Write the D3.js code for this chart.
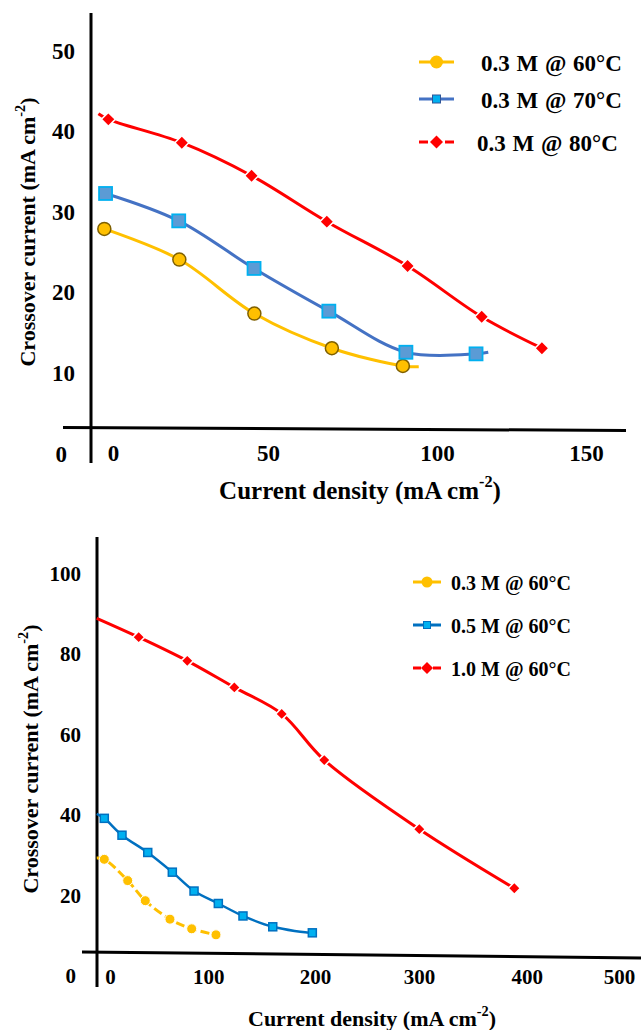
<!DOCTYPE html>
<html>
<head>
<meta charset="utf-8">
<script src="https://cdn.jsdelivr.net/npm/d3@7"></script>
<style>
  body { margin: 0; background: #fff; }
  svg { display: block; }
  text { font-family: "Liberation Serif", "Times New Roman", serif; font-weight: bold; fill: #000; }
</style>
</head>
<body>
<div id="chart"></div>
<script>
// ---- data ----
// upper panel: 0.3 M at three temperatures
const topXTicks = [0, 50, 100, 150];
const topYTicks = [0, 10, 20, 30, 40, 50];
const topNames = ["0.3 M @ 60°C", "0.3 M @ 70°C", "0.3 M @ 80°C"];

const topX60 = [-2.8, 21.4, 45.6, 68.9, 89.9];
const topY60 = [27.8, 24.0, 17.3, 13.0, 10.8];
const topX70 = [-2.4, 21.2, 45.5, 68.0, 90.8, 113.1];
const topY70 = [32.2, 28.8, 22.9, 17.6, 12.5, 12.3];
const topX80 = [-1.5, 22.2, 44.7, 67.4, 91.3, 115.0, 135.2];
const topY80 = [41.4, 38.5, 34.4, 28.7, 23.2, 16.9, 13.0];
// the drawn curves run a little past the markers
const topLead80 = [-4.7, 42.1];
const topTail60 = [94.6, 10.7];
const topTail70 = [117.2, 12.5];

// lower panel: three concentrations at 60 °C
const botXTicks = [0, 100, 200, 300, 400, 500];
const botYTicks = [0, 20, 40, 60, 80, 100];
const botNames = ["0.3 M @ 60°C", "0.5 M @ 60°C", "1.0 M @ 60°C"];

const botX03 = [-5.8, 18.0, 35.9, 61.0, 83.1, 107.2];
const botY03 = [28.8, 23.5, 18.5, 13.9, 11.5, 10.0];
const botX05 = [-5.8, 12.2, 38.4, 63.4, 85.5, 109.4, 132.5, 160.4, 197.5];
const botY05 = [39.0, 34.8, 30.5, 25.6, 20.9, 17.8, 14.7, 12.0, 10.5];
const botX10 = [29.2, 78.6, 124.4, 168.8, 208.9, 300.3, 388.5];
const botY10 = [84.1, 78.2, 71.6, 65.0, 53.5, 36.3, 21.6];
const botLead03 = [-13.5, 29.1];
const botLead05 = [-13.5, 40.1];
const botLead10 = [-13.5, 88.8];
const botTail05 = [201.6, 10.6];

const svg = d3.select("#chart").append("svg")
    .attr("width", 641)
    .attr("height", 1030)
    .style("background", "#fff");

function addMarker(sel, kind, size) {
    if (kind === "circle") return sel.append("circle").attr("r", size);
    let h = kind === "diamond" ? size / Math.SQRT2 : size;
    let m = sel.append("rect")
        .attr("x", -h).attr("y", -h)
        .attr("width", 2 * h).attr("height", 2 * h);
    if (kind === "diamond") m.attr("transform", "rotate(45)");
    return m;
}

function unitTitle(sel, words, size) {
    sel.style("font-size", size + "px");
    sel.append("tspan").text(words + " (mA cm");
    sel.append("tspan").attr("dy", -0.32 * size).style("font-size", (size * 0.65) + "px").text("-2");
    sel.append("tspan").attr("dy", 0.32 * size).text(")");
}

function drawPanel(p) {
    const g = svg.append("g");
    // piecewise scale so the value labels sit where the picture has them
    const x = d3.scaleLinear().domain(p.xTicks).range(p.xTickPos);
    const y = d3.scaleLinear().domain([p.yTicks[0], p.yTicks[p.yTicks.length - 1]]).range(p.yRange);

    // axis lines
    g.append("line")
        .attr("x1", p.yAxis.x).attr("x2", p.yAxis.x)
        .attr("y1", p.yAxis.top).attr("y2", p.yAxis.bottom)
        .attr("stroke", "#000").attr("stroke-width", 3);
    g.append("line")
        .attr("x1", p.xAxis.left).attr("x2", p.xAxis.right)
        .attr("y1", p.xAxis.y1).attr("y2", p.xAxis.y2)
        .attr("stroke", "#000").attr("stroke-width", 3);

    // tick labels
    const gx = g.append("g")
        .attr("transform", `translate(0,${p.xLabelY})`)
        .call(d3.axisBottom(x).tickValues(p.xTicks).tickSize(0).tickFormat(d3.format("d")));
    gx.select(".domain").remove();
    gx.selectAll("text").attr("y", 0).attr("dy", "0.35em").style("font-size", p.tickFont + "px");

    const gy = g.append("g")
        .attr("transform", `translate(${p.yLabelX},0)`)
        .call(d3.axisLeft(y).tickValues(p.yTicks).tickSize(0).tickPadding(0).tickFormat(d3.format("d")));
    gy.select(".domain").remove();
    gy.selectAll("text").attr("dy", "0.35em").style("font-size", p.tickFont + "px");
    gy.selectAll(".tick").filter(d => d === 0).select("text").attr("x", p.zeroShift);

    // axis titles
    unitTitle(g.append("text")
        .attr("x", p.xTitle[0]).attr("y", p.xTitle[1])
        .attr("text-anchor", "middle").attr("dominant-baseline", "central"),
        "Current density", p.xTitleFont);
    unitTitle(g.append("text")
        .attr("transform", `translate(${p.yTitle[0]},${p.yTitle[1]}) rotate(-90)`)
        .attr("text-anchor", "middle").attr("dominant-baseline", "central"),
        "Crossover current", p.yTitleFont);

    const line = d3.line()
        .x(d => x(d[0]))
        .y(d => y(d[1]))
        .curve(d3.curveCatmullRom.alpha(0.5));

    p.series.forEach(s => {
        let pts = s.xs.map((v, i) => [v, s.ys[i]]);
        let path = (s.lead ? [s.lead] : []).concat(pts, s.tail ? [s.tail] : []);
        g.append("path")
            .attr("d", line(path))
            .attr("fill", "none")
            .attr("stroke", s.color)
            .attr("stroke-width", s.width)
            .attr("stroke-dasharray", s.dash || null);
        g.selectAll(null)
            .data(pts)
            .enter().append("g")
            .attr("transform", d => `translate(${x(d[0])},${y(d[1])})`)
            .each(function() {
                addMarker(d3.select(this), s.marker, s.size)
                    .attr("fill", s.fill)
                    .attr("stroke", s.stroke)
                    .attr("stroke-width", s.strokeW);
            });
    });

    // legend
    const lg = g.append("g");
    p.series.forEach((s, i) => {
        let ly = p.legend.ys[i];
        lg.append("line")
            .attr("x1", p.legend.x1).attr("x2", p.legend.x2)
            .attr("y1", ly).attr("y2", ly)
            .attr("stroke", s.color).attr("stroke-width", 3)
            .attr("stroke-dasharray", s.legendDash || null);
        let mg = lg.append("g").attr("transform", `translate(${(p.legend.x1 + p.legend.x2) / 2},${ly})`);
        addMarker(mg, s.marker, s.legendSize)
            .attr("fill", s.legendFill)
            .attr("stroke", s.legendStroke)
            .attr("stroke-width", 1);
        lg.append("text")
            .attr("x", p.legend.tx[i]).attr("y", ly + 1)
            .attr("dominant-baseline", "central")
            .style("font-size", p.legend.font + "px")
            .style("word-spacing", p.legend.wordSpacing + "px")
            .text(p.names[i]);
    });
}

drawPanel({
    xTicks: topXTicks, xTickPos: [113, 268, 437, 586],
    yTicks: topYTicks, yRange: [453, 50],
    yAxis: {x: 91, top: 13, bottom: 463},
    xAxis: {left: 63, right: 626, y1: 427.5, y2: 430.5},
    xLabelY: 453, yLabelX: 75, zeroShift: -8, tickFont: 23,
    xTitle: [360, 490], xTitleFont: 25,
    yTitle: [27, 232], yTitleFont: 22,
    names: topNames,
    legend: {x1: 419, x2: 454, ys: [62, 99, 142], tx: [481, 481, 477], font: 23, wordSpacing: 1},
    series: [
        {xs: topX60, ys: topY60, tail: topTail60, color: "#FFC000", width: 3,
         marker: "circle", size: 6.5, fill: "#FFC000", stroke: "#7F6000", strokeW: 1.5,
         legendSize: 6.5, legendFill: "#FFC000", legendStroke: "none"},
        {xs: topX70, ys: topY70, tail: topTail70, color: "#4472C4", width: 3,
         marker: "square", size: 6.5, fill: "#5B9BD5", stroke: "#00B0F0", strokeW: 1.8,
         legendSize: 4, legendFill: "#00B0F0", legendStroke: "#2F5597"},
        {xs: topX80, ys: topY80, lead: topLead80, color: "#FF0000", width: 3,
         marker: "diamond", size: 7, fill: "#FF0000", stroke: "#fff", strokeW: 1.5,
         legendSize: 6.5, legendFill: "#FF0000", legendStroke: "none", legendDash: "9,17"}
    ]
});

drawPanel({
    xTicks: botXTicks, xTickPos: [110, 208.3, 315, 419, 526.7, 619],
    yTicks: botYTicks, yRange: [975, 573.3],
    yAxis: {x: 97, top: 537, bottom: 987},
    xAxis: {left: 82, right: 641, y1: 952, y2: 958},
    xLabelY: 977, yLabelX: 81, zeroShift: -5, tickFont: 21,
    xTitle: [372, 1018], xTitleFont: 22,
    yTitle: [30, 759], yTitleFont: 22,
    names: botNames,
    legend: {x1: 413, x2: 441, ys: [582, 625, 668], tx: [451, 451, 451], font: 20, wordSpacing: 0},
    series: [
        {xs: botX03, ys: botY03, lead: botLead03, color: "#FFC000", width: 3, dash: "9,4",
         marker: "circle", size: 5, fill: "#FFC000", stroke: "#fff", strokeW: 1,
         legendSize: 5.5, legendFill: "#FFC000", legendStroke: "none"},
        {xs: botX05, ys: botY05, lead: botLead05, tail: botTail05, color: "#0070C0", width: 2.5,
         marker: "square", size: 4, fill: "#00B0F0", stroke: "#0070C0", strokeW: 1.5,
         legendSize: 3.5, legendFill: "#00B0F0", legendStroke: "#0070C0"},
        {xs: botX10, ys: botY10, lead: botLead10, color: "#FF0000", width: 3,
         marker: "diamond", size: 6, fill: "#FF0000", stroke: "#fff", strokeW: 1.5,
         legendSize: 6, legendFill: "#FF0000", legendStroke: "none", legendDash: "8,12"}
    ]
});
</script>
</body>
</html>
